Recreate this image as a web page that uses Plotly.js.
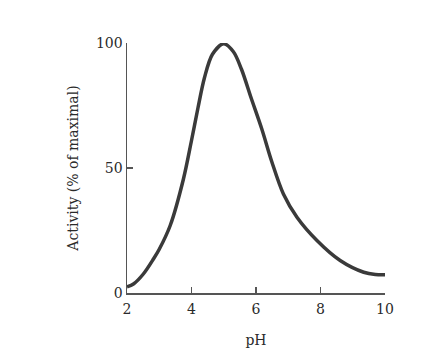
<!DOCTYPE html>
<html>
<head>
<meta charset="utf-8">
<script src="https://cdn.plot.ly/plotly-3.0.1.min.js"></script>
<style>html,body{margin:0;padding:0;background:#fff;}#chart{width:446px;height:364px;}</style>
</head>
<body>
<div id="chart"></div>
<script>
var ph = [2.0, 2.2, 2.5, 2.82, 3.0, 3.34, 3.75, 4.0, 4.2, 4.4, 4.65, 5.0, 5.3, 5.55, 5.85, 6.18, 6.49, 6.85, 7.27, 7.89, 8.61, 9.34, 9.7, 10.0];
var activity = [2.5, 3.6, 7.5, 13.6, 17.5, 27, 45.6, 61, 74, 86, 95.5, 99.7, 96.5, 89.5, 78, 65.6, 52.5, 39.6, 30.3, 21, 13, 8.3, 7.4, 7.3];
var xTicks = [2, 4, 6, 8, 10];
var yTicks = [0, 50, 100];
var serif = "DejaVu Serif, Liberation Serif, serif";

Plotly.newPlot('chart', [{
  x: ph, y: activity, type: 'scatter', mode: 'lines',
  line: {color: '#3a3a3a', width: 3.5, shape: 'spline', smoothing: 0.9},
  cliponaxis: false, hoverinfo: 'none'
}], {
  width: 446, height: 364,
  margin: {l: 127, r: 61, t: 43, b: 71},
  paper_bgcolor: '#ffffff', plot_bgcolor: '#ffffff',
  showlegend: false,
  font: {family: serif, color: '#2a2a2a', size: 14},
  xaxis: {
    range: [2, 10], tickvals: xTicks, ticktext: xTicks.map(String),
    ticks: 'inside', ticklen: 6, tickwidth: 1.2, tickcolor: '#555',
    ticklabelstandoff: 3,
    showline: true, linecolor: '#555', linewidth: 1.5,
    showgrid: false, zeroline: false,
    tickfont: {family: serif, size: 14, color: '#2a2a2a'},
    title: {text: 'pH', font: {family: serif, size: 14, color: '#2a2a2a'}, standoff: 19}
  },
  yaxis: {
    range: [0, 100], tickvals: yTicks, ticktext: yTicks.map(String),
    ticks: 'inside', ticklen: 6, tickwidth: 1.2, tickcolor: '#555',
    showline: true, linecolor: '#555', linewidth: 1.5,
    showgrid: false, zeroline: false,
    tickfont: {family: serif, size: 14, color: '#2a2a2a'},
    title: {text: 'Activity (% of maximal)', font: {family: serif, size: 14, color: '#2a2a2a'}, standoff: 14}
  }
}, {staticPlot: true, displayModeBar: false});
</script>
</body>
</html>
